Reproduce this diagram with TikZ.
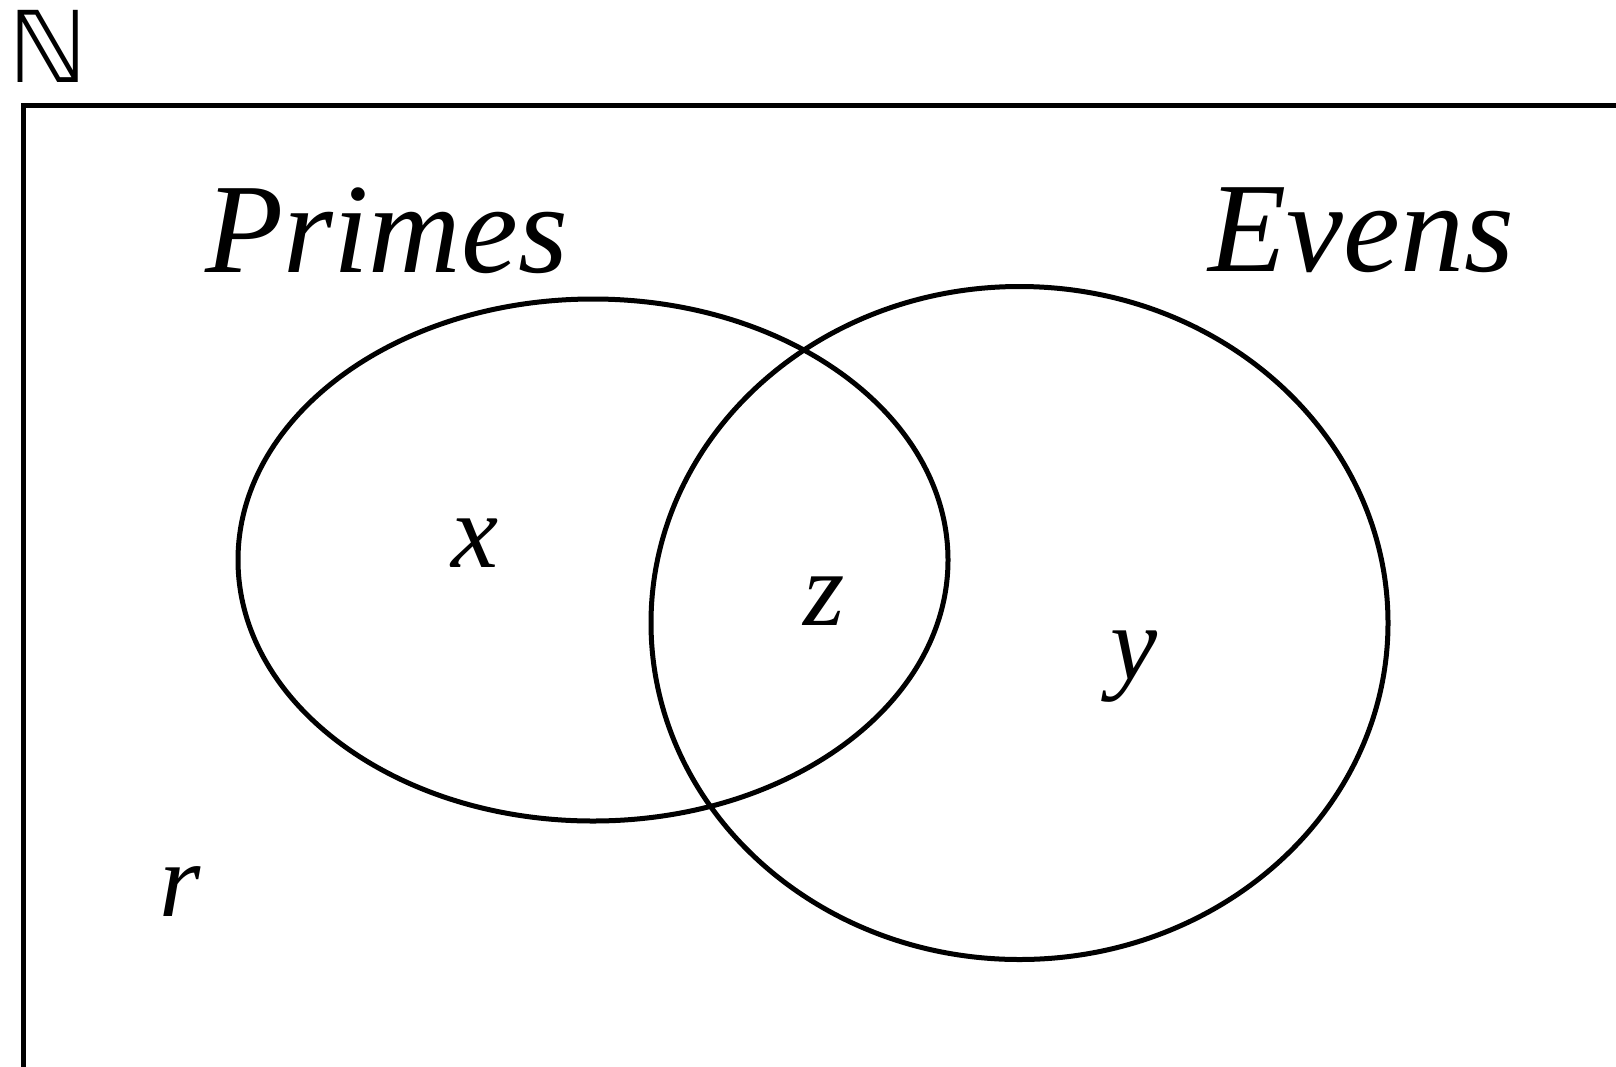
\documentclass[tikz,border=0pt]{standalone}
\usepackage{fontspec}
\setmainfont{Liberation Serif}[ItalicFont={Liberation Serif Italic}]
\newfontfamily\symfont{DejaVu Sans}
\begin{document}
\begin{tikzpicture}[x=1pt,y=-1pt,
  lbl/.style={inner sep=0pt, font=\fontsize{106}{120}\selectfont\itshape},
  setname/.style={inner sep=0pt, anchor=base west, font=\fontsize{128}{150}\selectfont\itshape},
  setline/.style={line width=5pt}]
\useasboundingbox (0,0) rectangle (1616,1066);
\clip (0,0) rectangle (1616,1066);
\fill[white] (0,0) rectangle (1616,1066);
% universe box (extends past the page)
\draw[line width=5.5pt] (1640,105.5) -- (23.5,105.5) -- (23.5,1090);
\node[inner sep=0pt, anchor=base west, font=\symfont\fontsize{99}{110}\selectfont] (nat) at (8,82) {ℕ};
% sets
\draw[setline] (593,560) ellipse [x radius=355pt, y radius=261pt];
\draw[setline] (1019.5,623) ellipse [x radius=368.5pt, y radius=336.5pt];
\node[setname] (primes) at (205,272) {Primes};
\node[setname] (evens) at (1208,271) {Evens};
\node[lbl, anchor=base] (x) at (475,567) {x};
\node[lbl, anchor=base] (z) at (824,625) {z};
\node[lbl, anchor=base] (y) at (1134,679) {y};
\node[lbl, anchor=base] (r) at (180,916) {r};
\end{tikzpicture}
\end{document}
